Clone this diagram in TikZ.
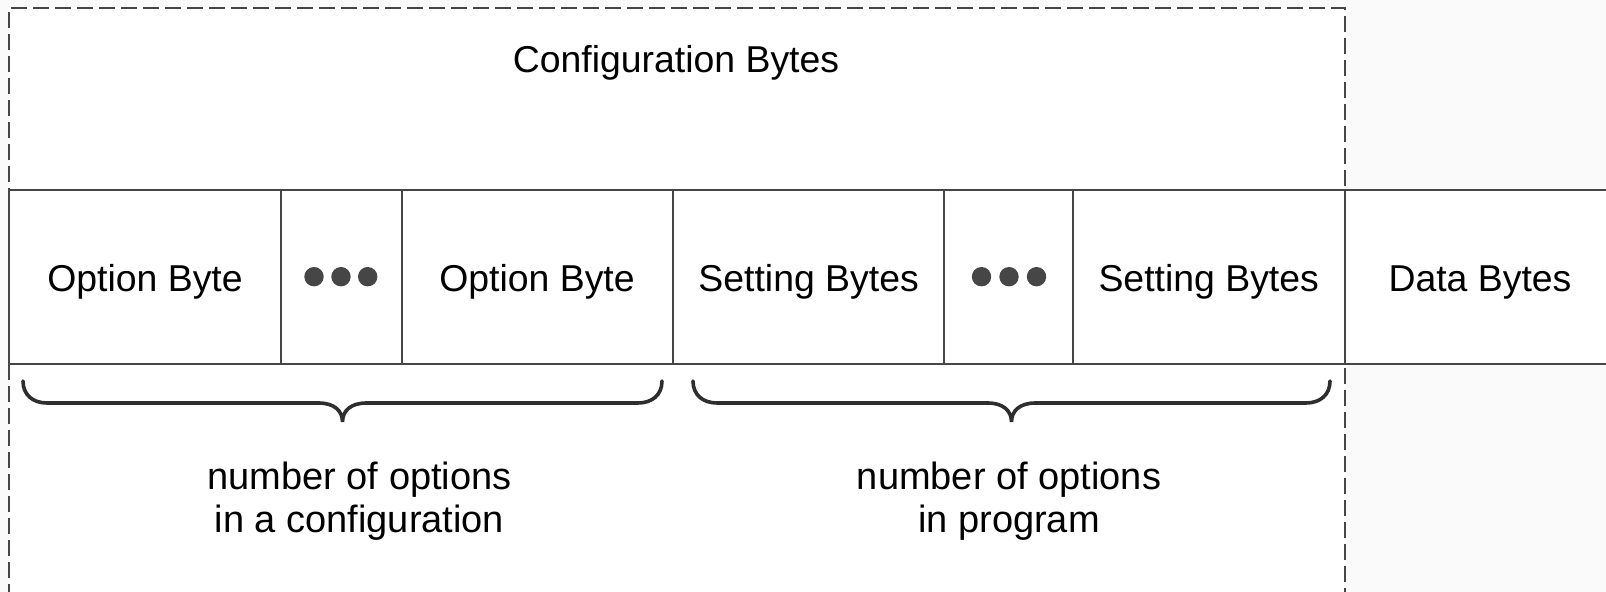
\documentclass[tikz,border=0pt]{standalone}
\usepackage{fontspec}
\setmainfont{Liberation Sans}
\definecolor{bg}{HTML}{FAFAFA}
\definecolor{ln}{HTML}{464646}
\definecolor{br}{HTML}{2E2E2E}
\begin{document}
\begin{tikzpicture}[x=0.5pt,y=-0.5pt,
  rowline/.style={draw=ln, line width=1pt},
  dashline/.style={draw=ln, line width=1pt, dash pattern=on 8pt off 3pt},
  lbl/.style={inner sep=0pt, anchor=base, text=black, font=\fontsize{18.7pt}{22pt}\selectfont},
  note/.style={inner sep=0pt, anchor=base, text=black, align=center, font=\fontsize{19pt}{21.5pt}\selectfont},
  dotstyle/.style={fill=ln, draw=none},
  bracestyle/.style={draw=br, line width=1.8pt, line cap=round}]
\useasboundingbox (0,0) rectangle (1606,592);
\fill[bg] (0,0) rectangle (1606,592);
% white regions
\fill[white] (9,8) rectangle (1345,600);
\fill[white] (9,190) rectangle (1610,364);
% dashed configuration box
\draw[dashline] (9,600) -- (9,8) -- (1345,8) -- (1345,600);
% row
\draw[rowline] (9,190) -- (1610,190);
\draw[rowline] (9,364) -- (1610,364);
\foreach \xx in {9,280.6,401.6,673,944.3,1073.4,1345}{
  \draw[rowline] (\xx,190) -- (\xx,364);
}
% texts
\node[lbl] (title) at (676,73) {Configuration Bytes};
\node[lbl] (o1) at (145,291.7) {Option Byte};
\node[lbl] (o2) at (537,291.7) {Option Byte};
\node[lbl] (s1) at (808.6,291.7) {Setting Bytes};
\node[lbl] (s2) at (1208.7,291.7) {Setting Bytes};
\node[lbl] (d) at (1480,291.7) {Data Bytes};
% dots
\foreach \cx in {314,341,367.7}{
  \fill[dotstyle] (\cx,276.7) circle[radius=9.7];
}
\foreach \cx in {981.5,1009,1036.5}{
  \fill[dotstyle] (\cx,276.7) circle[radius=9.7];
}
% braces
\coordinate (b1l) at (23,381);
\coordinate (b1m) at (342.5,422);
\coordinate (b1r) at (662,381);
\coordinate (b2l) at (693,381);
\coordinate (b2m) at (1011.5,422);
\coordinate (b2r) at (1330,381);
\foreach \L/\M/\R in {b1l/b1m/b1r, b2l/b2m/b2r}{
\draw[bracestyle] (\L) .. controls ([shift={(0,14)}]\L) and ([shift={(10,22)}]\L) .. ([shift={(24,22)}]\L)
  -- ([shift={(-24,-19)}]\M) .. controls ([shift={(-8,-19)}]\M) and ([shift={(0,-11)}]\M) .. (\M)
  .. controls ([shift={(0,-11)}]\M) and ([shift={(8,-19)}]\M) .. ([shift={(24,-19)}]\M)
  -- ([shift={(-24,22)}]\R) .. controls ([shift={(-10,22)}]\R) and ([shift={(0,14)}]\R) .. (\R);
}
% notes
\node[note] (n1) at (359.5,532.5) {number of options\\in a configuration};
\node[note] (n2) at (1009,532.5) {number of options\\in program};
\end{tikzpicture}
\end{document}
